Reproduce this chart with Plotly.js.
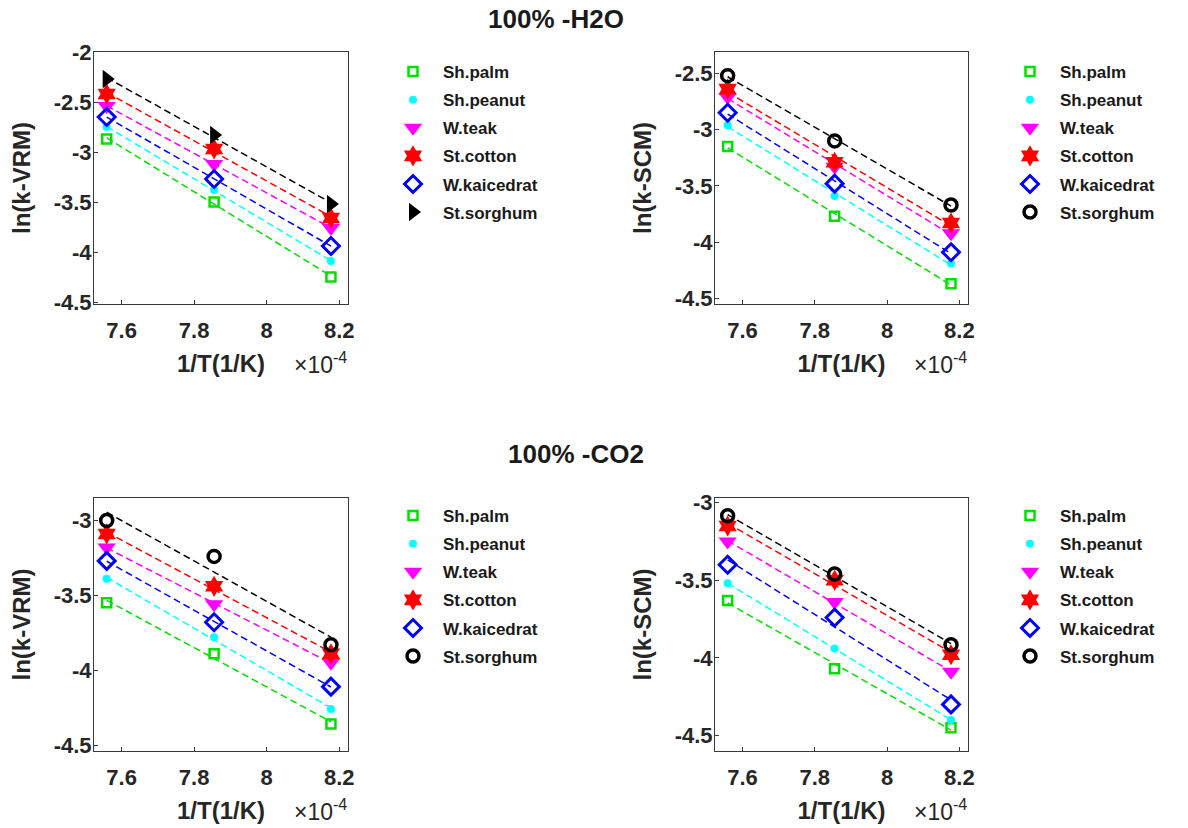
<!DOCTYPE html>
<html>
<head>
<meta charset="utf-8">
<script src="https://cdn.plot.ly/plotly-3.0.1.min.js"></script>
<style>html,body{margin:0;padding:0;background:#fff}#chart{width:1188px;height:828px}</style>
</head>
<body>
<div id="chart"></div>
<script>
// ---- data ----
const invT = [7.559, 7.855, 8.177];   // 1/T, units of 1e-4 1/K
const seriesNames = ['Sh.palm', 'Sh.peanut', 'W.teak', 'St.cotton', 'W.kaicedrat', 'St.sorghum'];

// 100% H2O, ln(k-VRM)
const h2oVRM_palm      = [-2.87, -3.50, -4.25];
const h2oVRM_peanut    = [-2.75, -3.38, -4.09];
const h2oVRM_teak      = [-2.54, -3.12, -3.76];
const h2oVRM_cotton    = [-2.42, -2.97, -3.66];
const h2oVRM_kaicedrat = [-2.65, -3.27, -3.94];
const h2oVRM_sorghum   = [-2.27, -2.83, -3.52];

// 100% H2O, ln(k-SCM)
const h2oSCM_palm      = [-3.15, -3.77, -4.37];
const h2oSCM_peanut    = [-2.96, -3.59, -4.19];
const h2oSCM_teak      = [-2.71, -3.33, -3.92];
const h2oSCM_cotton    = [-2.64, -3.29, -3.83];
const h2oSCM_kaicedrat = [-2.85, -3.48, -4.09];
const h2oSCM_sorghum   = [-2.52, -3.10, -3.67];

// 100% CO2, ln(k-VRM)
const co2VRM_palm      = [-3.55, -3.89, -4.36];
const co2VRM_peanut    = [-3.39, -3.78, -4.26];
const co2VRM_teak      = [-3.18, -3.56, -3.95];
const co2VRM_cotton    = [-3.09, -3.44, -3.89];
const co2VRM_kaicedrat = [-3.27, -3.68, -4.11];
const co2VRM_sorghum   = [-3.00, -3.24, -3.83];

// 100% CO2, ln(k-SCM)
const co2SCM_palm      = [-3.63, -4.07, -4.45];
const co2SCM_peanut    = [-3.52, -3.94, -4.40];
const co2SCM_teak      = [-3.25, -3.64, -4.09];
const co2SCM_cotton    = [-3.15, -3.50, -3.98];
const co2SCM_kaicedrat = [-3.40, -3.74, -4.30];
const co2SCM_sorghum   = [-3.085, -3.46, -3.915];

const xTicks = [7.6, 7.8, 8, 8.2];
const xTickLabels = ['7.6', '7.8', '8', '8.2'];

// ---- styles ----
const W = 1188, H = 828;
const FONT = 'Liberation Sans, Arial, Helvetica, sans-serif';
const TXT = '#262626';
const colors = ['#00e000', '#00ffff', '#ff00ff', '#ff0000', '#0000ff', '#000000'];
const markerStyles = [
  {symbol: 'square-open', size: 9, line: {width: 2.5}},
  {symbol: 'circle', size: 8},
  {symbol: 'triangle-down', size: 16},
  {symbol: 'hexagram', size: 16},
  {symbol: 'diamond-open', size: 13, line: {width: 3}},
  {symbol: 'circle-open', size: 12, line: {width: 3.5}}
];
const sorghumTri = {symbol: 'triangle-right', size: 16};

const panels = [
  {key: 'p1', ylab: 'ln(k-VRM)', data: [h2oVRM_palm, h2oVRM_peanut, h2oVRM_teak, h2oVRM_cotton, h2oVRM_kaicedrat, h2oVRM_sorghum],
   box: [94, 348, 52, 304], yr: [-4.52, -2.0], yt: [-4.5, -4, -3.5, -3, -2.5, -2], leg: [383, 54], tri: true},
  {key: 'p2', ylab: 'ln(k-SCM)', data: [h2oSCM_palm, h2oSCM_peanut, h2oSCM_teak, h2oSCM_cotton, h2oSCM_kaicedrat, h2oSCM_sorghum],
   box: [715, 968, 52, 304], yr: [-4.55, -2.31], yt: [-4.5, -4, -3.5, -3, -2.5], leg: [1000, 54]},
  {key: 'p3', ylab: 'ln(k-VRM)', data: [co2VRM_palm, co2VRM_peanut, co2VRM_teak, co2VRM_cotton, co2VRM_kaicedrat, co2VRM_sorghum],
   box: [94, 348, 498, 751], yr: [-4.54, -2.85], yt: [-4.5, -4, -3.5, -3], leg: [383, 498]},
  {key: 'p4', ylab: 'ln(k-SCM)', data: [co2SCM_palm, co2SCM_peanut, co2SCM_teak, co2SCM_cotton, co2SCM_kaicedrat, co2SCM_sorghum],
   box: [715, 968, 498, 751], yr: [-4.6, -2.97], yt: [-4.5, -4, -3.5, -3], leg: [1000, 498]}
];

function linfit(x, y) {
  const n = x.length;
  const mx = x.reduce((a, b) => a + b, 0) / n, my = y.reduce((a, b) => a + b, 0) / n;
  let sxy = 0, sxx = 0;
  for (let i = 0; i < n; i++) { sxy += (x[i] - mx) * (y[i] - my); sxx += (x[i] - mx) ** 2; }
  const b = sxy / sxx;
  return xx => my + b * (xx - mx);
}

const traces = [];
const layout = {
  width: W, height: H, margin: {l: 0, r: 0, t: 0, b: 0},
  paper_bgcolor: '#fff', plot_bgcolor: '#fff', showlegend: true,
  font: {family: FONT, color: TXT},
  title: {text: '100% -H2O', x: 556 / W, y: 1 - 19 / H, xanchor: 'center', yanchor: 'middle', xref: 'paper', yref: 'paper',
          font: {family: FONT, size: 26, weight: 'bold', color: '#1a1a1a'}},
  annotations: [
    {text: '100% -CO2', x: 576 / W, y: 1 - 454 / H, xref: 'paper', yref: 'paper', xanchor: 'center', yanchor: 'middle',
     showarrow: false, font: {family: FONT, size: 26, weight: 'bold', color: '#1a1a1a'}}
  ]
};

panels.forEach((p, i) => {
  const n = i + 1;
  const xa = 'x' + (n === 1 ? '' : n), ya = 'y' + (n === 1 ? '' : n);
  const legName = 'legend' + (n === 1 ? '' : n);
  // fitted dashed lines
  p.data.forEach((ys, s) => {
    const f = linfit(invT, ys);
    const xe = [invT[0], invT[invT.length - 1]];
    traces.push({type: 'scatter', mode: 'lines', x: xe, y: xe.map(f), xaxis: xa, yaxis: ya,
      line: {color: colors[s], width: 1.5, dash: '7px,4px'}, showlegend: false, hoverinfo: 'skip',
      legendgroup: p.key + s, legend: legName});
  });
  // data markers
  p.data.forEach((ys, s) => {
    let ms = markerStyles[s];
    if (s === 5 && p.tri) ms = sorghumTri;
    const marker = Object.assign({color: colors[s]}, ms);
    if (ms.line) marker.line = Object.assign({color: colors[s]}, ms.line);
    traces.push({type: 'scatter', mode: 'markers', name: seriesNames[s], x: invT, y: ys, xaxis: xa, yaxis: ya,
      marker: marker, legendgroup: p.key + s, legend: legName});
  });

  const [x0, x1, y0, y1] = p.box;
  const axCommon = {showgrid: false, zeroline: false, showline: true, mirror: true, linecolor: '#3a3a3a', linewidth: 1,
    ticks: 'inside', ticklen: 4, tickcolor: '#3a3a3a', tickfont: {family: FONT, size: 22, weight: 'bold', color: TXT}};
  layout['xaxis' + (n === 1 ? '' : n)] = Object.assign({}, axCommon, {
    domain: [x0 / W, x1 / W], anchor: ya, range: [7.524, 8.224],
    tickvals: xTicks, ticktext: xTickLabels, ticklabelstandoff: 7,
    title: {text: '1/T(1/K)', standoff: 12, font: {family: FONT, size: 24, weight: 'bold', color: TXT}}
  });
  layout['yaxis' + (n === 1 ? '' : n)] = Object.assign({}, axCommon, {
    domain: [1 - y1 / H, 1 - y0 / H], anchor: xa, range: p.yr,
    tickvals: p.yt, ticktext: p.yt.map(v => String(v)), ticklabelstandoff: -3,
    title: {text: p.ylab, standoff: 16, font: {family: FONT, size: 24, weight: 'bold', color: TXT}}
  });
  layout[legName] = {x: p.leg[0] / W, y: 1 - p.leg[1] / H, xanchor: 'left', yanchor: 'top', xref: 'paper', yref: 'paper',
    bgcolor: 'rgba(0,0,0,0)', borderwidth: 0, itemwidth: 50, tracegroupgap: 3, traceorder: 'grouped',
    font: {family: FONT, size: 17, weight: 'bold', color: '#1a1a1a'}};
  layout.annotations.push({text: '\u00d710<sup>-4</sup>', xref: xa + ' domain', yref: 'paper', x: 1, y: 1 - (y1 + 75) / H,
    xanchor: 'right', yanchor: 'bottom', borderpad: 0, showarrow: false, font: {family: FONT, size: 23, color: TXT}});
});

Plotly.newPlot('chart', traces, layout, {displayModeBar: false, staticPlot: true});
</script>
</body>
</html>
